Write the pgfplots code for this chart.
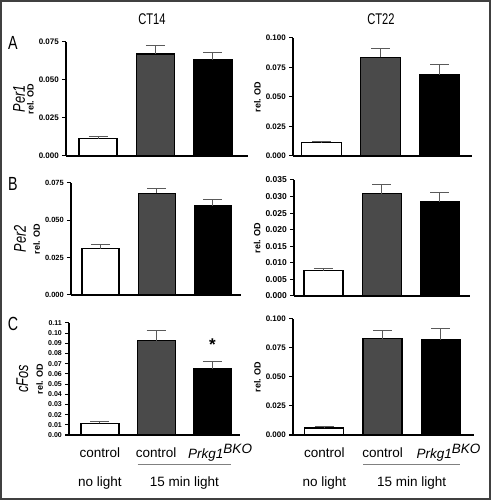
\documentclass[border=0pt]{standalone}
\usepackage{pgfplots}
\pgfplotsset{compat=1.18}
\usepackage{graphicx}
\usepackage{fontspec}
\setmainfont{Liberation Sans}
\newlength\px
\setlength\px{0.75pt}
\definecolor{bargrey}{HTML}{4A4A4A}
\definecolor{errgrey}{HTML}{5A5A5A}
\newcommand\fs[1]{\fontsize{#1\px}{1.15\dimexpr#1\px\relax}\selectfont}
\newcommand\cond[2]{\scalebox{#1}[1]{#2}}
\tikzset{gene/.style={rotate=90, anchor=base, inner sep=0pt, font=\itshape\fs{17}}}
\pgfplotsset{
  panel/.style={
    scale only axis,
    anchor=south west,
    axis lines=left,
    axis line style={-, line width=1.1\px},
    ymin=0,
    xtick=\empty,
    ytick style={line width=1\px, black},
    tick align=outside,
    major tick length=4\px,
    ybar,
    clip=false,
    scaled y ticks=false,
    ylabel={\bfseries rel. OD},
    ylabel style={font=\fs{9}, yshift=-4\px},
    yticklabel style={font=\bfseries\fs{8}, xshift=1.5\px},
    /pgf/number format/.cd, fixed, fixed zerofill, precision=3, assume math mode=true,
  },
  b/.style={bar shift=0pt, draw=black, line width=1.2\px,
    error bars/y dir=plus, error bars/y explicit,
    error bars/error bar style={line width=1\px, draw=errgrey},
    error bars/error mark options={rotate=90, line width=1\px, draw=errgrey, mark size=9.5\px}},
}
\begin{document}
\begin{tikzpicture}
\useasboundingbox (0,0) rectangle (491\px,500\px);
\draw[line width=2\px, black!75] (1\px,1\px) rectangle (490\px,499\px);
% titles
\node[font=\fs{15.5}] at (152\px,481\px) {\cond{0.72}{CT14}};
\node[font=\fs{15.5}] at (381\px,481\px) {\cond{0.72}{CT22}};
\node[font=\fs{19}] at (13\px,457\px) {\cond{0.75}{A}};
\node[font=\fs{19}] at (13\px,316\px) {\cond{0.75}{B}};
\node[font=\fs{19}] at (13\px,176\px) {\cond{0.75}{C}};

% A left
\begin{axis}[panel, at={(66\px,344\px)}, width=182\px, height=114\px,
  xmin=-0.557, xmax=2.61, ymax=0.075, ytick={0,0.025,0.05,0.075}, bar width=38\px]
\addplot[b, fill=white] coordinates {(0,0.0115) +- (0,0.0011)};
\addplot[b, fill=bargrey] coordinates {(1,0.0671) +- (0,0.0055)};
\addplot[b, fill=black] coordinates {(2,0.0631) +- (0,0.0051)};
\node[gene] at ([xshift=-41\px]rel axis cs:0,0.5) {\cond{0.75}{Per1}};
\end{axis}

% A right
\begin{axis}[panel, at={(293\px,344\px)}, width=179\px, height=118\px,
  xmin=-0.483, xmax=2.55, ymax=0.1, ytick={0,0.025,0.05,0.075,0.1}, bar width=40\px]
\addplot[b, fill=white] coordinates {(0,0.0111) +- (0,0.0008)};
\addplot[b, fill=bargrey] coordinates {(1,0.0835) +- (0,0.0077)};
\addplot[b, fill=black] coordinates {(2,0.069) +- (0,0.0088)};
\end{axis}

% B left
\begin{axis}[panel, at={(71\px,205\px)}, width=170\px, height=112\px,
  xmin=-0.524, xmax=2.50, ymax=0.075, ytick={0,0.025,0.05,0.075}, bar width=37\px,
  yticklabel style={font=\bfseries\fs{7.5}}]
\addplot[b, fill=white] coordinates {(0,0.0311) +- (0,0.0025)};
\addplot[b, fill=bargrey] coordinates {(1,0.0681) +- (0,0.0033)};
\addplot[b, fill=black] coordinates {(2,0.0598) +- (0,0.0042)};
\node[gene] at ([xshift=-45\px]rel axis cs:0,0.5) {\cond{0.75}{Per2}};
\end{axis}

% B right
\begin{axis}[panel, at={(294\px,204\px)}, width=176\px, height=116\px,
  xmin=-0.506, xmax=2.515, ymax=0.035, ytick={0,0.005,0.01,0.015,0.02,0.025,0.03,0.035}, bar width=39\px,
  yticklabel style={font=\bfseries\fs{8.5}}]
\addplot[b, fill=white] coordinates {(0,0.00762) +- (0,0.0008)};
\addplot[b, fill=bargrey] coordinates {(1,0.0309) +- (0,0.0027)};
\addplot[b, fill=black] coordinates {(2,0.0284) +- (0,0.0027)};
\end{axis}

% C left
\begin{axis}[panel, at={(69\px,65\px)}, width=171\px, height=112\px,
  xmin=-0.551, xmax=2.49, ymax=0.11, ytick={0,0.01,0.02,0.03,0.04,0.05,0.06,0.07,0.08,0.09,0.1,0.11}, bar width=38\px,
  yticklabel style={font=\bfseries\fs{7}, /pgf/number format/precision=2}]
\addplot[b, fill=white] coordinates {(0,0.0115) +- (0,0.0016)};
\addplot[b, fill=bargrey] coordinates {(1,0.0926) +- (0,0.0098)};
\addplot[b, fill=black] coordinates {(2,0.065) +- (0,0.0069)};
\node[gene] at ([xshift=-41\px]rel axis cs:0,0.5) {\cond{0.75}{cFos}};
\node[font=\bfseries\fs{17}] at ([yshift=-3\px]axis cs:2,0.0915) {*};
\node[font=\fs{13.5}] at ([yshift=-18\px]axis cs:0,0) {control};
\node[font=\fs{13.5}] at ([yshift=-18\px]axis cs:1,0) {control};
\node[font=\fs{13.5}] at ([yshift=-18\px,xshift=8\px]axis cs:2,0) {\itshape Prkg1$^{\textit{BKO}}$};
\draw[line width=0.8\px, gray] ([yshift=-29\px]axis cs:0.67,0) -- ([yshift=-29\px]axis cs:2.33,0);
\node[font=\fs{13.5}] at ([yshift=-48\px]axis cs:0,0) {no light};
\node[font=\fs{13.5}] at ([yshift=-48\px]axis cs:1.5,0) {15 min light};
\end{axis}

% C right
\begin{axis}[panel, at={(293\px,65\px)}, width=181\px, height=116\px,
  xmin=-0.537, xmax=2.57, ymax=0.1, ytick={0,0.025,0.05,0.075,0.1}, bar width=39\px]
\addplot[b, fill=white] coordinates {(0,0.006) +- (0,0.0009)};
\addplot[b, fill=bargrey] coordinates {(1,0.083) +- (0,0.0075)};
\addplot[b, fill=black] coordinates {(2,0.0819) +- (0,0.0095)};
\node[font=\fs{13.5}] at ([yshift=-18\px]axis cs:0,0) {control};
\node[font=\fs{13.5}] at ([yshift=-18\px]axis cs:1,0) {control};
\node[font=\fs{13.5}] at ([yshift=-18\px,xshift=8\px]axis cs:2,0) {\itshape Prkg1$^{\textit{BKO}}$};
\draw[line width=0.8\px, gray] ([yshift=-29\px]axis cs:0.67,0) -- ([yshift=-29\px]axis cs:2.33,0);
\node[font=\fs{13.5}] at ([yshift=-48\px]axis cs:0,0) {no light};
\node[font=\fs{13.5}] at ([yshift=-48\px]axis cs:1.5,0) {15 min light};
\end{axis}
\end{tikzpicture}
\end{document}
